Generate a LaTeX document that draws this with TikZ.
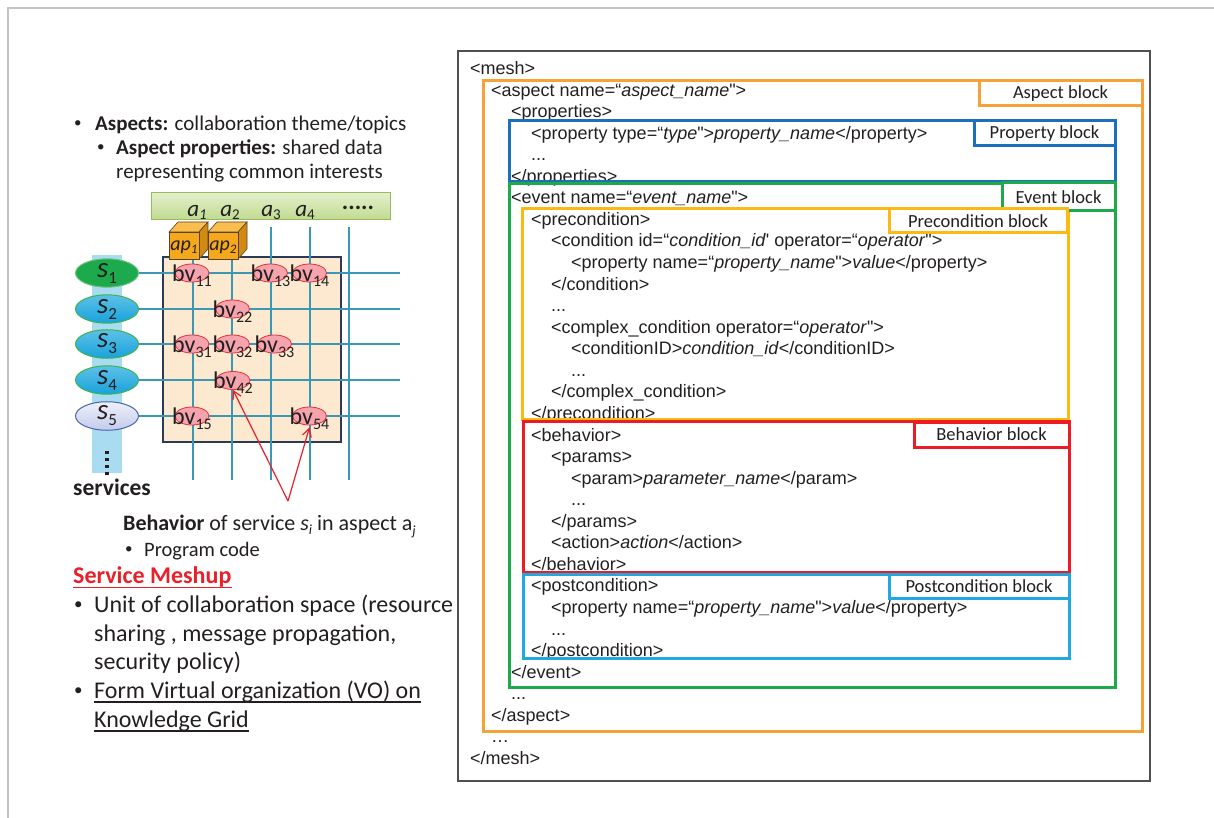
\documentclass[tikz,border=0pt]{standalone}
\usepackage{fontspec}
\setmainfont{Carlito}
\newfontfamily\codefont{Liberation Sans}
\usetikzlibrary{shapes.geometric,arrows.meta}

\definecolor{ink}{HTML}{231F20}
\definecolor{framegray}{HTML}{C4C4C4}
\definecolor{panelgray}{HTML}{505050}
\definecolor{aspectc}{HTML}{F7A239}
\definecolor{propc}{HTML}{1B6FBD}
\definecolor{eventc}{HTML}{1EAA4B}
\definecolor{prec}{HTML}{FDB913}
\definecolor{behc}{HTML}{ED1C24}
\definecolor{postc}{HTML}{22A8E0}
\definecolor{gridc}{HTML}{3A98B4}
\definecolor{meshpanel}{HTML}{FDE9D0}
\definecolor{meshedge}{HTML}{2B3A55}
\definecolor{bvfill}{HTML}{F5A3AC}
\definecolor{bvline}{HTML}{E2323C}
\definecolor{cubefront}{HTML}{F5A81C}
\definecolor{cubetop}{HTML}{F9BE4E}
\definecolor{cubeside}{HTML}{D38A12}
\definecolor{cubeedge}{HTML}{5A4320}
\definecolor{barfill}{HTML}{A9DCF1}
\definecolor{svgreen}{HTML}{1DAA4C}
\definecolor{svgreenedge}{HTML}{6CC47E}
\definecolor{svblue}{HTML}{18A3DA}
\definecolor{svbluetop}{HTML}{5DC0E8}
\definecolor{svedge}{HTML}{3BB54A}
\definecolor{svlav}{HTML}{C3CBEB}
\definecolor{svlavtop}{HTML}{EEF0FA}
\definecolor{svlavedge}{HTML}{4467B0}
\definecolor{meshred}{HTML}{E8202A}
\definecolor{abartop}{HTML}{E3F0CB}
\definecolor{abarbot}{HTML}{C0DA90}
\definecolor{abaredge}{HTML}{97BB5C}

% small helper for lowered subscripts
\newcommand\lowsub[3]{\raisebox{-#1pt}{\fontsize{#2}{#2}\selectfont #3}}

\begin{document}
\begin{tikzpicture}[x=1pt,y=-1pt,
  codeline/.style={anchor=base west, inner sep=0pt, text=ink,
    font=\codefont\fontsize{18}{21}\selectfont},
  blocktag/.style={draw=#1, fill=white, line width=3pt, inner sep=0pt,
    text=ink, font=\fontsize{18.5}{19}\selectfont},
  blockframe/.style={draw=#1, line width=3pt},
  body/.style={anchor=base west, inner sep=0pt, text=ink},
  dotmark/.style={anchor=base west, inner sep=0pt, text=ink,
    font=\fontsize{15}{15}\selectfont},
  svc/.style={ellipse, minimum width=63pt, minimum height=27pt, inner sep=0pt,
    line width=1pt, text=ink},
  bvshape/.style={ellipse, minimum width=34pt, minimum height=18pt, inner sep=0pt,
    fill=bvfill, draw=bvline, line width=0.8pt},
  bvtext/.style={inner sep=0pt, text height=16.5pt, text depth=0pt, text=ink,
    font=\fontsize{24}{24}\selectfont},
  gridline/.style={draw=gridc, line width=1.4pt},
  pointer/.style={draw=meshred, line width=1.2pt,
    -{Straight Barb[length=8pt,width=9pt]}},
  alabel/.style={anchor=base, inner sep=0pt, text=ink,
    font=\fontsize{23}{23}\selectfont},
  aplabel/.style={anchor=base, inner sep=0pt, text=ink,
    font=\fontsize{20}{20}\selectfont},
]
\useasboundingbox (0,0) rectangle (1214,818);

% slide frame
\draw[framegray, line width=2.5pt] (8,818) -- (8,8) -- (1214,8);

% ---------------- left: aspects, services and behaviours ----------------
\node[dotmark] (bul1) at (74,128) {•};
\node[body, font=\fontsize{21}{24}\selectfont] (asp) at (95,131)
  {\textbf{Aspects:} collaboration theme/topics};
\node[dotmark] (bul2) at (97,152) {•};
\node[body, font=\fontsize{21}{24}\selectfont] (aprop) at (116,155)
  {\textbf{Aspect properties:} shared data};
\node[body, font=\fontsize{21}{24}\selectfont] (aprop2) at (116,179)
  {representing common interests};

% aspect bar
\shade[top color=abartop, bottom color=abarbot] (151,193) rectangle (390,220);
\draw[abaredge, line width=1pt] (151,193) rectangle (390,220);
\node[alabel] (a1) at (197,217) {\textit{a}\lowsub{3}{15}{\textit{1}}};
\node[alabel] (a2) at (230,217) {\textit{a}\lowsub{3}{15}{2}};
\node[alabel] (a3) at (271,217) {\textit{a}\lowsub{3}{15}{3}};
\node[alabel] (a4) at (305,217) {\textit{a}\lowsub{3}{15}{4}};
\node[alabel, font=\bfseries\fontsize{24}{24}\selectfont] (adots) at (358,210) {.....};

% service column
\fill[barfill] (92,255) rectangle (122,473);
\foreach \yy in {452,459,466,473}
  \fill[ink] (105.3,\yy-1.5) rectangle (108.7,\yy+1.5);

% behaviour mesh panel
\filldraw[fill=meshpanel, draw=meshedge, line width=1.2pt] (163,257) rectangle (341,442);

% grid
\foreach \xx in {193,232,271,310,349}
  \draw[gridline] (\xx,227) -- (\xx,480);
\foreach \yy in {273,309,344,380,416}
  \draw[gridline] (138,\yy) -- (400,\yy);

% aspect property cubes
\foreach \cx in {169,208}{
  \filldraw[fill=cubetop, draw=cubeedge, line width=0.6pt]
    (\cx,232) -- ++(9,-10) -- ++(30,0) -- ++(-9,10) -- cycle;
  \filldraw[fill=cubeside, draw=cubeedge, line width=0.6pt]
    ({\cx+30},232) -- ++(9,-10) -- ++(0,27) -- ++(-9,10) -- cycle;
  \filldraw[fill=cubefront, draw=cubeedge, line width=0.6pt]
    (\cx,232) rectangle ({\cx+30},259);
}
\node[aplabel] (ap1) at (184,251) {\textit{ap}\lowsub{3}{13}{\textit{1}}};
\node[aplabel] (ap2) at (223,251) {\textit{ap}\lowsub{3}{13}{\textit{2}}};

% services
\node[svc, fill=svgreen, draw=svgreenedge] (s1) at (107,273)
  {\fontsize{29}{29}\selectfont\textit{s}\lowsub{6}{17}{1}};
\node[svc, top color=svbluetop, bottom color=svblue, draw=svedge] (s2) at (107,309)
  {\fontsize{29}{29}\selectfont\textit{s}\lowsub{6}{17}{2}};
\node[svc, top color=svbluetop, bottom color=svblue, draw=svedge] (s3) at (107,344)
  {\fontsize{29}{29}\selectfont\textit{s}\lowsub{6}{17}{3}};
\node[svc, top color=svbluetop, bottom color=svblue, draw=svedge] (s4) at (107,380)
  {\fontsize{29}{29}\selectfont\textit{s}\lowsub{6}{17}{4}};
\node[svc, top color=svlavtop, bottom color=svlav, draw=svlavedge] (s5) at (107,416)
  {\fontsize{29}{29}\selectfont\textit{s}\lowsub{6}{17}{5}};

% behaviours
\foreach \nm/\px/\py/\sb in {bv11/192/273/11, bv13/270.5/273/13, bv14/309.5/273/14,
    bv22/232.5/309/22, bv31/192/344/31, bv32/232.5/344/32, bv33/274.5/344/33,
    bv42/233/380.5/42, bv15/192/416/15, bv54/309.5/416/54}{
  \node[bvshape] (\nm) at (\px,\py) {};
  \node[bvtext] (\nm t) at (\nm.center) {bv\lowsub{5}{16}{\sb}};
}

% pointers to behaviours
\coordinate (behapex) at (288,501);
\draw[pointer] (behapex) -- (bv42.south);
\draw[pointer] (behapex) -- ([yshift=-2pt]bv54.south);

\node[body, font=\bfseries\fontsize{23.5}{24}\selectfont] (svcs) at (73,495) {services};
\node[body, font=\fontsize{22}{24}\selectfont] (beh) at (123,530)
  {\textbf{Behavior} of service \textit{s}\lowsub{4}{14}{\textit{i}} in aspect a\lowsub{5}{14}{\textit{j}}};
\node[dotmark] (bul3) at (125,553) {•};
\node[body, font=\fontsize{20.5}{24}\selectfont] (prog) at (144,556) {Program code};

\node[body, text=meshred, font=\bfseries\fontsize{24}{26}\selectfont] (meshup) at (73,583) {Service Meshup};
\draw[meshred, line width=1.8pt] ([yshift=-4.5pt]meshup.base west) -- ([yshift=-4.5pt]meshup.base east);

\node[dotmark, font=\fontsize{17}{17}\selectfont] (bul4) at (74,609) {•};
\node[body, font=\fontsize{24}{28}\selectfont] (unit1) at (94,612) {Unit of collaboration space (resource};
\node[body, font=\fontsize{24}{28}\selectfont] (unit2) at (94,641) {sharing , message propagation,};
\node[body, font=\fontsize{24}{28}\selectfont] (unit3) at (94,669) {security policy)};
\node[dotmark, font=\fontsize{17}{17}\selectfont] (bul5) at (74,695) {•};
\node[body, font=\fontsize{24}{28}\selectfont] (vo1) at (94,698) {Form Virtual organization (VO) on};
\node[body, font=\fontsize{24}{28}\selectfont] (vo2) at (94,727) {Knowledge Grid};
\draw[ink, line width=1.5pt] ([yshift=-4pt]vo1.base west) -- ([yshift=-4pt]vo1.base east);
\draw[ink, line width=1.5pt] ([yshift=-4pt]vo2.base west) -- ([yshift=-4pt]vo2.base east);

% ---------------- right: mesh description ----------------
\node[codeline] (c0)  at (470,74.5)  {<mesh>};
\node[codeline] (c1)  at (491,96.1)  {<aspect name=“\textit{aspect\_name}">};
\node[codeline] (c2)  at (511,117.6) {<properties>};
\node[codeline] (c3)  at (531,139.2) {<property type=“\textit{type}">\textit{property\_name}</property>};
\node[codeline] (c4)  at (531,160.7) {...};
\node[codeline] (c5)  at (511,182.3) {</properties>};
\node[codeline] (c6)  at (511,203.9) {<event name=“\textit{event\_name}">};
\node[codeline] (c7)  at (531,225.4) {<precondition>};
\node[codeline] (c8)  at (551,247.0) {<condition id=“\textit{condition\_id}\textquotesingle{} operator=“\textit{operator}">};
\node[codeline] (c9)  at (571,268.5) {<property name=“\textit{property\_name}">\textit{value}</property>};
\node[codeline] (c10) at (551,290.1) {</condition>};
\node[codeline] (c11) at (551,311.7) {...};
\node[codeline] (c12) at (551,333.2) {<complex\_condition operator=“\textit{operator}">};
\node[codeline] (c13) at (571,354.8) {<conditionID>\textit{condition\_id}</conditionID>};
\node[codeline] (c14) at (571,376.3) {...};
\node[codeline] (c15) at (551,397.9) {</complex\_condition>};
\node[codeline] (c16) at (531,419.5) {</precondition>};
\node[codeline] (c17) at (531,441.0) {<behavior>};
\node[codeline] (c18) at (551,462.6) {<params>};
\node[codeline] (c19) at (571,484.1) {<param>\textit{parameter\_name}</param>};
\node[codeline] (c20) at (571,505.7) {...};
\node[codeline] (c21) at (551,527.3) {</params>};
\node[codeline] (c22) at (551,548.8) {<action>\textit{action}</action>};
\node[codeline] (c23) at (531,570.4) {</behavior>};
\node[codeline] (c24) at (531,591.9) {<postcondition>};
\node[codeline] (c25) at (551,613.5) {<property name=“\textit{property\_name}">\textit{value}</property>};
\node[codeline] (c26) at (551,635.1) {...};
\node[codeline] (c27) at (531,656.6) {</postcondition>};
\node[codeline] (c28) at (511,678.2) {</event>};
\node[codeline] (c29) at (511,699.7) {...};
\node[codeline] (c30) at (491,721.3) {</aspect>};
\node[codeline] (c31) at (491,742.9) {…};
\node[codeline] (c32) at (470,764.4) {</mesh>};

% block outlines
\draw[panelgray, line width=1.4pt] (458,51) rectangle (1150,781);
\draw[blockframe=aspectc] (483,81) rectangle (1142,731);
\draw[blockframe=propc] (509,121) rectangle (1115,182);
\draw[blockframe=eventc] (509,184) rectangle (1115,687);
\draw[blockframe=prec] (522,209) rectangle (1068,419);
\draw[blockframe=behc] (523,421.5) rectangle (1069,572);
\draw[blockframe=postc] (523,574.5) rectangle (1069,658);

% block tags
\node[blocktag=aspectc, minimum width=163pt, minimum height=25pt] (tagA) at (1060.5,93.5) {Aspect block};
\node[blocktag=propc, minimum width=141pt, minimum height=25pt] (tagP) at (1044.5,133.5) {Property block};
\node[blocktag=eventc, minimum width=113pt, minimum height=28pt] (tagE) at (1058.5,197) {Event block};
\node[blocktag=prec, minimum width=178pt, minimum height=24pt] (tagC) at (978,221) {Precondition block};
\node[blocktag=behc, minimum width=155pt, minimum height=25pt] (tagB) at (991.5,434.5) {Behavior block};
\node[blocktag=postc, minimum width=180pt, minimum height=24pt] (tagQ) at (979,586) {Postcondition block};
\end{tikzpicture}
\end{document}
